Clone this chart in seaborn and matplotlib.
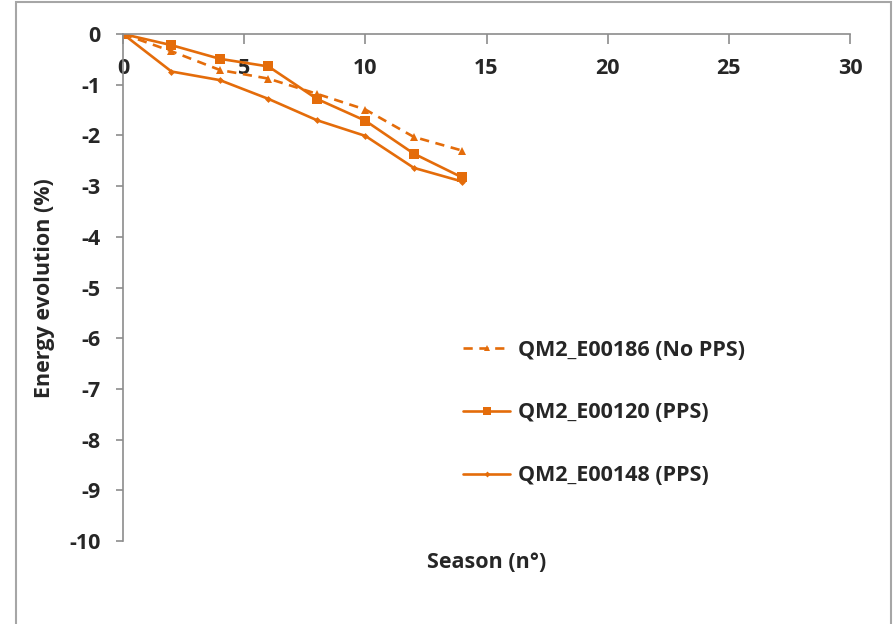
import numpy as np
import pandas as pd
import matplotlib
matplotlib.use("Agg")
import matplotlib.pyplot as plt
from matplotlib.patches import Rectangle
import seaborn as sns

seasons = [0, 2, 4, 6, 8, 10, 12, 14]
e00186 = [0, -0.34, -0.71, -0.88, -1.18, -1.49, -2.03, -2.30]
e00120 = [0, -0.22, -0.49, -0.64, -1.28, -1.71, -2.36, -2.83]
e00148 = [0, -0.74, -0.91, -1.28, -1.70, -2.01, -2.64, -2.91]
series_names = ["QM2_E00186 (No PPS)", "QM2_E00120 (PPS)", "QM2_E00148 (PPS)"]
x_ticks = [0, 5, 10, 15, 20, 25, 30]
y_ticks = [0, -1, -2, -3, -4, -5, -6, -7, -8, -9, -10]

sns.set_style("white")
plt.rcParams["font.family"] = ["Open Sans", "DejaVu Sans"]
plt.rcParams["font.weight"] = "bold"
plt.rcParams["axes.unicode_minus"] = False

orange = "#E46C0A"
grey = "#8C8C8C"
FS = 15.5

df = pd.DataFrame({
    "Season": seasons * 3,
    "Energy": e00186 + e00120 + e00148,
    "Series": [series_names[0]] * len(seasons) + [series_names[1]] * len(seasons) + [series_names[2]] * len(seasons),
})

fig = plt.figure(figsize=(8.93, 6.24), dpi=100)
ax = fig.add_axes([123 / 893, 1 - 541 / 624, (850 - 123) / 893, (541 - 34) / 624])

sns.lineplot(
    data=df, x="Season", y="Energy", hue="Series", style="Series",
    hue_order=series_names, style_order=series_names,
    palette={n: orange for n in series_names},
    markers={series_names[0]: "^", series_names[1]: "s", series_names[2]: "D"},
    dashes={series_names[0]: (3.5, 2.5), series_names[1]: "", series_names[2]: ""},
    linewidth=1.9, markeredgewidth=0, ax=ax, legend=True,
)
for line, ms in zip(ax.lines[:3], [6, 6.5, 3.5]):
    line.set_markersize(ms)

ax.set_xlim(0, 30)
ax.set_ylim(-10, 0)
ax.set_xticks(x_ticks)
ax.set_yticks(y_ticks)
ax.set_xticklabels([str(v) for v in x_ticks], fontweight="bold")
ax.set_yticklabels([str(v) for v in y_ticks], fontweight="bold")

ax.spines["bottom"].set_position(("data", 0))
ax.spines["top"].set_visible(False)
ax.spines["right"].set_visible(False)
for s in ["bottom", "left"]:
    ax.spines[s].set_color(grey)
    ax.spines[s].set_linewidth(1.2)
ax.tick_params(axis="x", direction="out", length=7, width=1.2, color=grey,
               pad=10, labelsize=FS, bottom=True)
ax.tick_params(axis="y", direction="out", length=5, width=1.2, color=grey,
               pad=11, labelsize=FS, left=True)

ax.set_xlabel("")
ax.set_ylabel("")
fig.text(487 / 893, 1 - 562 / 624, "Season (n\u00b0)", ha="center", va="center",
         fontsize=FS, fontweight="bold")
fig.text(45 / 893, 1 - 288 / 624, "Energy evolution (%)", ha="center", va="center",
         rotation=90, fontsize=FS, fontweight="bold")

handles, labels = ax.get_legend_handles_labels()
for h, ms in zip(handles[-3:], [5, 5.5, 3]):
    h.set_markersize(ms)
leg = ax.legend(handles[-3:], labels[-3:], loc="center left",
                bbox_to_anchor=(448 / 893, 1 - 413 / 624), bbox_transform=fig.transFigure,
                frameon=False, labelspacing=1.95, handlelength=2.2, borderpad=0.2,
                handletextpad=0.35, prop={"weight": "bold", "size": FS})

fig.patches.append(Rectangle((16 / 893, -0.02), (891 - 16) / 893, 1 - 2 / 624 + 0.02,
                             fill=False, edgecolor="#A6A6A6", linewidth=1.5,
                             transform=fig.transFigure, figure=fig))

fig.savefig("out.png", dpi=100)
